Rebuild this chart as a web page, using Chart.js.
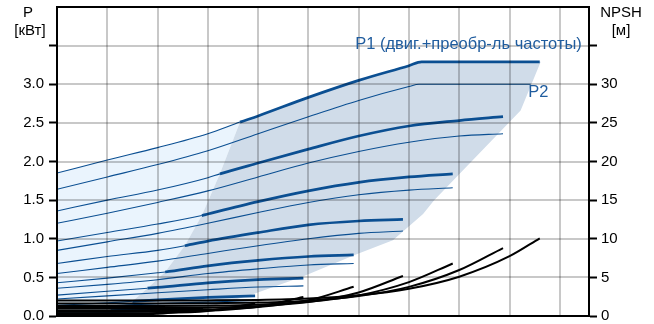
<!DOCTYPE html>
<html>
<head>
<meta charset="utf-8">
<script src="https://cdn.jsdelivr.net/npm/chart.js@4.4.1/dist/chart.umd.min.js"></script>
<style>
  html, body { margin: 0; padding: 0; background: #fff; }
</style>
</head>
<body>
<canvas id="pumpChart" width="654" height="324"></canvas>
<script>
// flow axis, m3/h (labels are cut off below the picture)
const qMax = 10.58;
const qTicks = [1, 2, 3, 4, 5, 6, 7, 8, 9, 10];
const pTicks = [0, 0.5, 1, 1.5, 2, 2.5, 3, 3.5, 4];
const npshTicks = [0, 5, 10, 15, 20, 25, 30, 35, 40];

// P1 (motor + converter), kW, one curve per speed, top speed first
const p1Q = [
  [0, 1, 2, 3, 3.64, 4, 5, 6, 7, 7.25, 9.6],
  [0, 1, 2, 3, 3.24, 4, 5, 6, 7, 8, 8.87],
  [0, 1, 2, 2.88, 3, 4, 5, 6, 7, 7.87],
  [0, 1, 2, 2.54, 3, 4, 5, 6, 6.88],
  [0, 1, 2, 2.15, 3, 4, 5, 5.9],
  [0, 1, 1.8, 2, 3, 4, 4.9],
  [0, 1, 1.5, 2, 3, 3.94],
  [0, 1.07, 2, 2.9]
];
const p1Kw = [
  [1.85, 2.02, 2.18, 2.36, 2.51, 2.59, 2.83, 3.05, 3.24, 3.29, 3.29],
  [1.36, 1.50, 1.63, 1.79, 1.84, 1.98, 2.16, 2.33, 2.46, 2.53, 2.58],
  [0.97, 1.08, 1.19, 1.30, 1.32, 1.48, 1.62, 1.73, 1.80, 1.84],
  [0.68, 0.77, 0.85, 0.91, 0.97, 1.08, 1.18, 1.23, 1.25],
  [0.43, 0.49, 0.56, 0.57, 0.65, 0.72, 0.77, 0.79],
  [0.27, 0.32, 0.36, 0.37, 0.43, 0.47, 0.49],
  [0.14, 0.17, 0.19, 0.21, 0.24, 0.26],
  [0.05, 0.07, 0.09, 0.095]
];
// where each P1 curve enters the working area (drawn bold from here)
const p1BoldFrom = [3.64, 3.24, 2.88, 2.54, 2.15, 1.8, 1.5, 1.07];

// P2 (shaft power), kW
const p2Q = [
  [0, 1, 2, 3, 4, 5, 6, 7, 7.2, 9.42],
  [0, 1, 2, 3, 4, 5, 6, 7, 8, 8.87],
  [0, 1, 2, 3, 4, 5, 6, 7, 7.87],
  [0, 1, 2, 3, 4, 5, 6, 6.88],
  [0, 1, 2, 3, 4, 5, 5.9],
  [0, 1, 2, 3, 4, 4.9],
  [0, 1, 2, 3, 3.94],
  [0, 1, 2, 2.9]
];
const p2Kw = [
  [1.64, 1.80, 1.96, 2.14, 2.36, 2.58, 2.79, 2.97, 3.0, 3.0],
  [1.20, 1.33, 1.47, 1.62, 1.80, 1.98, 2.13, 2.25, 2.33, 2.36],
  [0.85, 0.96, 1.07, 1.20, 1.34, 1.47, 1.57, 1.63, 1.66],
  [0.55, 0.63, 0.71, 0.81, 0.91, 1.00, 1.07, 1.10],
  [0.36, 0.41, 0.47, 0.55, 0.61, 0.66, 0.68],
  [0.22, 0.26, 0.30, 0.34, 0.375, 0.39],
  [0.105, 0.13, 0.16, 0.18, 0.20],
  [0.035, 0.045, 0.06, 0.07]
];

// NPSH, m
const npshQ = [
  [0, 1, 2, 3, 4, 5, 6, 7, 8, 9, 9.6],
  [0, 1, 2, 3, 4, 5, 6, 7, 8, 8.87],
  [0, 1, 2, 3, 4, 5, 6, 7, 7.87],
  [0, 1, 2, 3, 4, 5, 6, 6.88],
  [0, 1, 2, 3, 4, 5, 5.9],
  [0, 1, 2, 3, 4, 4.9],
  [0, 1, 2, 3, 3.94],
  [0, 1, 2, 2.9]
];
const npshM = [
  [2.0, 2.0, 2.0, 2.02, 2.08, 2.26, 2.68, 3.53, 5.09, 7.74, 10.06],
  [1.63, 1.63, 1.63, 1.65, 1.74, 1.99, 2.58, 3.77, 5.95, 8.8],
  [1.30, 1.30, 1.30, 1.34, 1.46, 1.83, 2.67, 4.39, 6.8],
  [1.03, 1.03, 1.03, 1.08, 1.27, 1.80, 3.05, 5.18],
  [0.76, 0.76, 0.77, 0.84, 1.15, 2.03, 3.78],
  [0.56, 0.56, 0.57, 0.70, 1.21, 2.45],
  [0.35, 0.35, 0.39, 0.65, 1.61],
  [0.18, 0.18, 0.29, 0.93]
];

// working area outline (q, kW)
const workQ = [1.07, 1.5, 1.8, 2.15, 2.54, 2.88, 3.24, 3.64, 4, 5, 6, 7, 7.25, 9.62,
               9.22, 7.5, 7.28, 6.68, 5.92, 4.89, 3.84, 2.95];
const workKw = [0.07, 0.19, 0.36, 0.57, 0.91, 1.30, 1.84, 2.51, 2.59, 2.83, 3.05, 3.24, 3.29, 3.29,
                2.66, 1.50, 1.32, 0.98, 0.79, 0.51, 0.27, 0.1];
// extended area left of it
const extQ = [0, 1, 2, 3, 3.64, 3.24, 2.88, 2.54, 2.15, 1.8, 1.5, 1.07, 0.9, 0];
const extKw = [1.85, 2.02, 2.18, 2.36, 2.51, 1.84, 1.30, 0.91, 0.57, 0.36, 0.19, 0.07, 0, 0];

const blue = "#0b4f92";
const gridGrey = "rgb(200,200,200)";
const font = "\"Liberation Sans\", Arial, sans-serif";

const pts = (qs, vs) => qs.map((q, i) => ({ x: q, y: vs[i] }));

const datasets = [];
p1Q.forEach((qs, k) => {
  const from = p1BoldFrom[k];
  datasets.push({
    data: pts(qs, p1Kw[k]), yAxisID: "y", borderColor: blue, borderWidth: 1.1,
    cubicInterpolationMode: "monotone", order: 1,
    segment: { borderWidth: c => c.p0.parsed.x >= from - 1e-6 ? 2.7 : 1.1 }
  });
});
p2Q.forEach((qs, k) => {
  datasets.push({
    data: pts(qs, p2Kw[k]), yAxisID: "y", borderColor: blue, borderWidth: 1.1,
    cubicInterpolationMode: "monotone", order: 2
  });
});
npshQ.forEach((qs, k) => {
  datasets.push({
    data: pts(qs, npshM[k]), yAxisID: "y2", borderColor: "#000", borderWidth: 2,
    cubicInterpolationMode: "monotone", order: 0
  });
});
datasets.push({
  data: pts(workQ, workKw), yAxisID: "y", fill: "shape", borderWidth: 0,
  backgroundColor: "rgb(208,220,233)", tension: 0, order: 19
});
datasets.push({
  data: pts(extQ, extKw), yAxisID: "y", fill: "shape", borderWidth: 0,
  backgroundColor: "rgb(234,244,253)", tension: 0, order: 20
});

const framePlugin = {
  id: "frame",
  afterDatasetsDraw(chart) {
    const { ctx, chartArea: a, scales } = chart;
    const w = a.right - a.left;
    const h = a.bottom - a.top;
    ctx.save();
    // grid multiplied over the shading so it shows on every area
    ctx.globalCompositeOperation = "multiply";
    ctx.fillStyle = gridGrey;
    qTicks.forEach(v => {
      const x = Math.round(scales.x.getPixelForValue(v));
      ctx.fillRect(x - 1, a.top, 2, h);
    });
    pTicks.forEach(v => {
      if (v <= 0 || v >= 4) return;
      const y = Math.round(scales.y.getPixelForValue(v));
      ctx.fillRect(a.left, y - 1, w, 2);
    });
    ctx.globalCompositeOperation = "source-over";

    ctx.strokeStyle = "#000";
    ctx.lineWidth = 2;
    ctx.strokeRect(a.left, a.top, w, h);

    ctx.font = "15px " + font;
    ctx.fillStyle = "#000";
    ctx.textAlign = "center";
    ctx.textBaseline = "middle";
    ctx.fillText("P", a.left - 29, 13);
    ctx.fillText("[кВт]", a.left - 27, 31);
    ctx.fillText("NPSH", a.right + 32, 13);
    ctx.fillText("[м]", a.right + 32, 31);

    ctx.font = "16.5px " + font;
    ctx.fillStyle = "#1f5c9e";
    ctx.textAlign = "left";
    ctx.textBaseline = "alphabetic";
    ctx.fillText("P1 (двиг.+преобр-ль частоты)", scales.x.getPixelForValue(5.93), scales.y.getPixelForValue(3.45));
    ctx.fillText("P2", scales.x.getPixelForValue(9.37), scales.y.getPixelForValue(2.84));
    ctx.restore();
  }
};

new Chart(document.getElementById("pumpChart"), {
  type: "line",
  data: { datasets },
  options: {
    responsive: false,
    animation: false,
    devicePixelRatio: 1,
    layout: { padding: { top: 7, left: 0, right: 0, bottom: 0 } },
    elements: { point: { radius: 0 } },
    plugins: {
      legend: { display: false },
      tooltip: { enabled: false }
    },
    scales: {
      x: {
        type: "linear", min: 0, max: qMax,
        ticks: { stepSize: 1, display: false, includeBounds: false },
        grid: { display: false },
        border: { color: "#000", width: 2 },
        afterFit: s => { s.height = 8; }
      },
      y: {
        position: "left", min: 0, max: 4,
        afterBuildTicks: s => { s.ticks = pTicks.map(v => ({ value: v })); },
        ticks: {
          color: "#000", padding: 5, font: { family: font, size: 15, lineHeight: 0.1 },
          callback: v => v >= 4 ? null : (v > 3 ? "" : v.toFixed(1))
        },
        grid: {
          drawOnChartArea: false, tickLength: 8, tickWidth: 2, tickColor: "#000"
        },
        border: { color: "#000", width: 2 },
        afterFit: s => { s.width = 57; }
      },
      y2: {
        position: "right", min: 0, max: 40,
        afterBuildTicks: s => { s.ticks = npshTicks.map(v => ({ value: v })); },
        ticks: {
          color: "#000", padding: 4, font: { family: font, size: 15, lineHeight: 0.1 },
          callback: v => v >= 40 ? null : (v > 30 ? "" : String(v))
        },
        grid: { drawOnChartArea: false, tickLength: 8, tickWidth: 2, tickColor: "#000" },
        border: { color: "#000", width: 2 },
        afterFit: s => { s.width = 65; }
      }
    }
  },
  plugins: [framePlugin]
});
</script>
</body>
</html>
